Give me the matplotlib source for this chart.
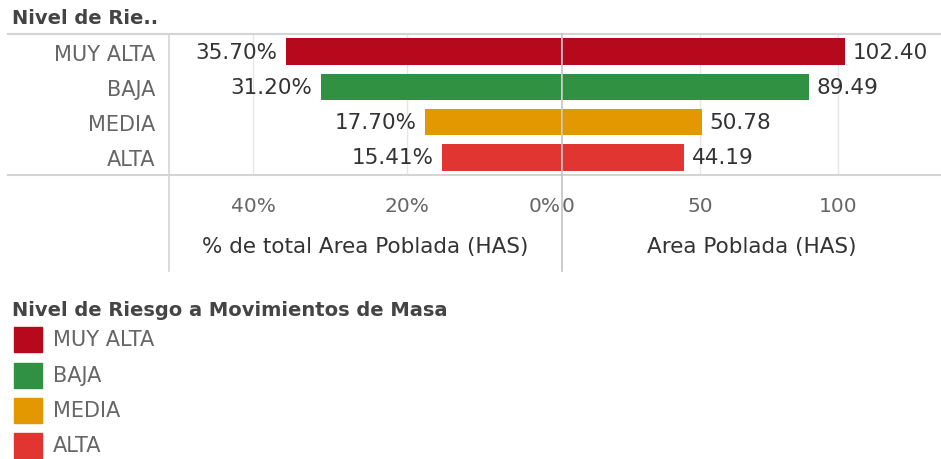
import matplotlib
matplotlib.use("Agg")
import matplotlib.pyplot as plt
from matplotlib.lines import Line2D
from matplotlib.patches import Rectangle

# Data
niveles = ["MUY ALTA", "BAJA", "MEDIA", "ALTA"]
pct_total = [35.70, 31.20, 17.70, 15.41]
area_has = [102.40, 89.49, 50.78, 44.19]
colores = ["#b60a1c", "#309143", "#e39802", "#e03531"]
pct_ticks = [40, 20, 0]
pct_ticklabels = ["40%", "20%", "0%"]
area_ticks = [0, 50, 100]
area_ticklabels = ["0", "50", "100"]

W, H = 941, 460
fig = plt.figure(figsize=(W / 100, H / 100), dpi=100)
plt.rcParams["font.family"] = ["DejaVu Sans"]

LABEL_C = "#666666"
VALUE_C = "#333333"
GRID_C = "#e6e6e6"
RULE_C = "#d4d4d4"


def fx(px):
    return px / W


def fy(py):
    return 1 - py / H


top, bottom = 35, 176
left_x0, zero_x, right_x1 = 169, 561, 941

ax_p = fig.add_axes([fx(left_x0), fy(bottom), fx(zero_x - left_x0), (bottom - top) / H])
ax_a = fig.add_axes([fx(zero_x + 1), fy(bottom), fx(right_x1 - zero_x - 1), (bottom - top) / H])

ypos = list(range(len(niveles)))

for ax in (ax_p, ax_a):
    ax.set_ylim(len(niveles) - 0.5, -0.5)
    for s in ax.spines.values():
        s.set_visible(False)
    ax.tick_params(axis="both", length=0)
    ax.set_facecolor("none")

# Percent pane (reversed axis)
ax_p.barh(ypos, pct_total, height=0.75, color=colores, zorder=2)
ax_p.set_xlim(50.9, 0)
ax_p.set_xticks(pct_ticks)
ax_p.set_xticklabels(pct_ticklabels, color=LABEL_C, fontsize=14.5)
ax_p.get_xticklabels()[-1].set_horizontalalignment("right")
ax_p.tick_params(axis="x", pad=15)
for t in pct_ticks[:-1]:
    ax_p.axvline(t, color=GRID_C, lw=1, zorder=0)
ax_p.set_yticks(ypos)
ax_p.set_yticklabels(niveles, color=LABEL_C, fontsize=15)
ax_p.tick_params(axis="y", pad=10)
ax_p.set_xlabel("% de total Area Poblada (HAS)", fontsize=15.5, color=VALUE_C, labelpad=15)
for y, v in zip(ypos, pct_total):
    ax_p.annotate(f"{v:.2f}%", (v, y), xytext=(-6, 0), textcoords="offset points",
                  ha="right", va="center", fontsize=15.5, color=VALUE_C)

# Area pane
ax_a.barh(ypos, area_has, height=0.75, color=colores, zorder=2)
ax_a.set_xlim(0, 137.3)
ax_a.set_xticks(area_ticks)
ax_a.set_xticklabels(area_ticklabels, color=LABEL_C, fontsize=14.5)
ax_a.get_xticklabels()[0].set_horizontalalignment("left")
ax_a.tick_params(axis="x", pad=15)
for t in area_ticks[1:]:
    ax_a.axvline(t, color=GRID_C, lw=1, zorder=0)
ax_a.set_yticks([])
ax_a.set_xlabel("Area Poblada (HAS)", fontsize=15.5, color=VALUE_C, labelpad=15)
for y, v in zip(ypos, area_has):
    ax_a.annotate(f"{v:.2f}", (v, y), xytext=(5.5, 0), textcoords="offset points",
                  ha="left", va="center", fontsize=15.5, color=VALUE_C)

# Frame rules
fig.add_artist(Line2D([fx(8), 1], [fy(top), fy(top)], color=RULE_C, lw=1.5))
fig.add_artist(Line2D([fx(8), 1], [fy(bottom), fy(bottom)], color=RULE_C, lw=1.5))
fig.add_artist(Line2D([fx(left_x0), fx(left_x0)], [fy(top), fy(272)], color=RULE_C, lw=1.2))
fig.add_artist(Line2D([fx(zero_x + 0.5), fx(zero_x + 0.5)], [fy(top), fy(272)], color="#c4c4c4", lw=1.2))

fig.text(fx(12), fy(18), "Nivel de Rie..", fontsize=14, fontweight="bold",
         color="#444444", ha="left", va="center")

# Legend
fig.text(fx(12), fy(310), "Nivel de Riesgo a Movimientos de Masa", fontsize=14,
         fontweight="bold", color="#444444", ha="left", va="center")
leg_y = [340, 376, 411, 446]
for yc, lab, c in zip(leg_y, niveles, colores):
    fig.add_artist(Rectangle((fx(14), fy(yc + 12.5)), fx(28), 25 / H, color=c,
                             transform=fig.transFigure))
    fig.text(fx(53), fy(yc), lab, fontsize=15, color=LABEL_C, ha="left", va="center")

fig.savefig("out.png", dpi=100)
